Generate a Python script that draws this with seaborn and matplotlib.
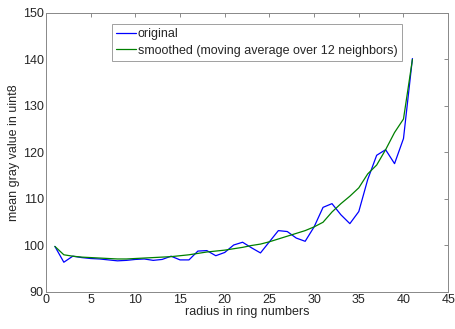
import matplotlib
matplotlib.use("Agg")
import matplotlib.pyplot as plt
import seaborn as sns
import pandas as pd

# mean gray value per ring, raw and smoothed
radius = list(range(1, 42))
original = [99.8, 96.4, 97.7, 97.4, 97.2, 97.1, 96.9, 96.7, 96.8, 97.0,
            97.1, 96.8, 97.0, 97.7, 96.9, 96.9, 98.8, 98.9, 97.8, 98.5,
            100.1, 100.7, 99.5, 98.4, 100.8, 103.2, 103.0, 101.6, 100.9, 104.0,
            108.2, 109.0, 106.6, 104.7, 107.3, 114.2, 119.4, 120.6, 117.6, 123.0,
            140.2]
smoothed = [99.8, 98.0, 97.7, 97.5, 97.4, 97.3, 97.2, 97.1, 97.1, 97.2,
            97.3, 97.4, 97.5, 97.6, 97.8, 98.0, 98.3, 98.6, 98.8, 99.0,
            99.3, 99.6, 100.0, 100.3, 100.8, 101.4, 102.0, 102.6, 103.2, 104.0,
            105.0, 107.2, 109.0, 110.6, 112.4, 115.4, 117.3, 120.6, 124.3, 127.2,
            140.0]

labels = ["original", "smoothed (moving average over 12 neighbors)"]
colors = ["#0000ff", "#008000"]

df = pd.concat([
    pd.DataFrame({"radius": radius, "value": original, "series": labels[0]}),
    pd.DataFrame({"radius": radius, "value": smoothed, "series": labels[1]}),
])

sns.set_style("white")
plt.rcParams["font.family"] = ["Liberation Sans", "DejaVu Sans"]
plt.rcParams["font.size"] = 9

fig = plt.figure(figsize=(4.55, 3.29), dpi=100)
ax = fig.add_axes([0.101, 0.1125, 0.884, 0.848])

sns.lineplot(data=df, x="radius", y="value", hue="series", hue_order=labels,
             palette=colors, linewidth=0.9, ax=ax, legend=False)

ax.set_xlim(0, 45)
ax.set_ylim(90, 150)
ax.set_xticks(range(0, 46, 5))
ax.set_yticks(range(90, 151, 10))
ax.set_xlabel("radius in ring numbers", fontsize=9, labelpad=0)
ax.set_ylabel("mean gray value in uint8", fontsize=9, labelpad=2)

ax.tick_params(direction="in", length=3, width=0.6, color="#777777",
               labelsize=9, top=True, right=True, pad=1.5)
for s in ax.spines.values():
    s.set_color("#888888")
    s.set_linewidth(0.7)

handles = [plt.Line2D([], [], color=c, lw=0.9) for c in colors]
leg = fig.legend(handles, labels, loc="upper left",
                 bbox_to_anchor=(112 / 455, 1 - 24 / 329),
                 frameon=True, fancybox=False, fontsize=9,
                 handlelength=1.6, handletextpad=0.1, borderpad=0.35,
                 labelspacing=0.35, borderaxespad=0)
leg.get_frame().set_edgecolor("#888888")
leg.get_frame().set_linewidth(0.7)

fig.savefig("out.png", dpi=100)
